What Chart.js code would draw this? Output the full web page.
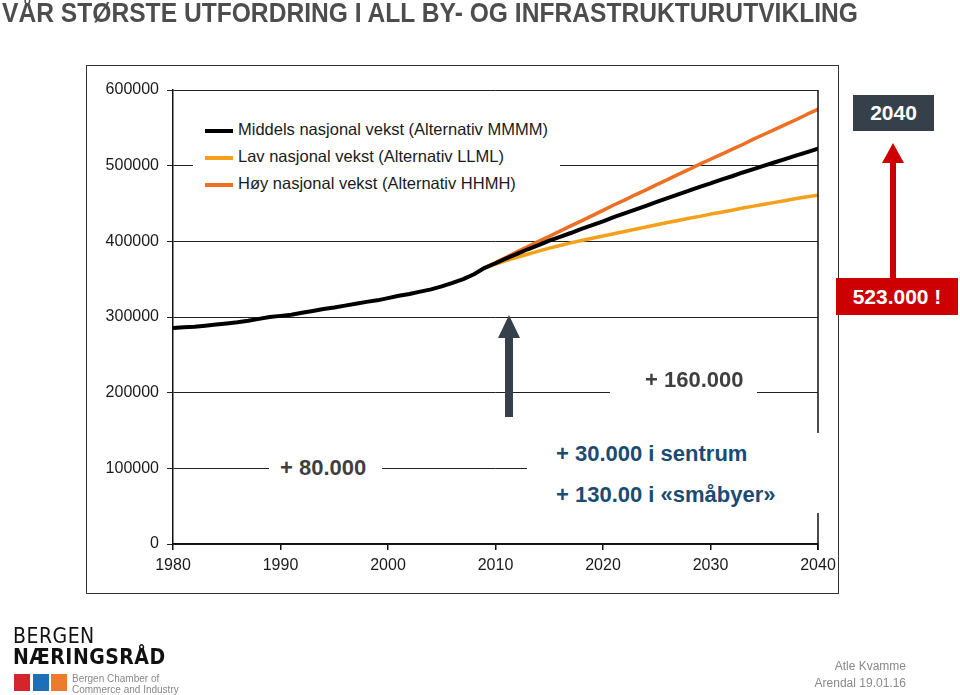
<!DOCTYPE html>
<html>
<head>
<meta charset="utf-8">
<script src="https://cdn.jsdelivr.net/npm/chart.js@4/dist/chart.umd.min.js"></script>
<style>
  html,body{margin:0;padding:0;background:#fff;}
  body{width:960px;height:695px;position:relative;overflow:hidden;font-family:"Liberation Sans",Arial,sans-serif;}
  #wrap{position:absolute;left:0;top:0;width:960px;height:695px;}
  .abs{position:absolute;}
  #title{left:2px;top:-2px;font-size:27px;font-weight:bold;color:#4d4d4d;white-space:nowrap;transform-origin:0 0;line-height:30px;}
  #frame{left:86px;top:65px;width:751px;height:527px;border:1.5px solid #333;}
  .wb{background:#fff;}
  .ann{font-weight:bold;white-space:nowrap;}
  #legend{left:193px;top:110px;width:367px;height:90px;}
  .lrow{position:absolute;left:12px;height:20px;font-size:16.5px;color:#1a1a1a;white-space:nowrap;}
  .lrow span.sw{position:absolute;left:0;top:9px;width:28px;height:4px;}
  .lrow span.tx{position:absolute;left:33px;top:0px;}
</style>
</head>
<body>
<div id="wrap">
  <div id="frame" class="abs"></div>
  <canvas id="c" width="960" height="695" class="abs" style="left:0;top:0"></canvas>
  <div id="title" class="abs">VÅR STØRSTE UTFORDRING I ALL BY- OG INFRASTRUKTURUTVIKLING</div>
  <div id="legend" class="abs wb"></div>
  <div class="abs wb" style="left:610px;top:368px;width:147px;height:28px;"></div>
  <div class="abs ann" style="left:645px;top:367px;font-size:22px;color:#3f3f3f;">+ 160.000</div>
  <div class="abs wb" style="left:269px;top:452px;width:113px;height:32px;"></div>
  <div class="abs ann" style="left:280px;top:455px;font-size:22px;color:#3f3f3f;">+ 80.000</div>
  <div class="abs wb" style="left:527px;top:433px;width:300px;height:80px;"></div>
  <div class="abs ann" style="left:556px;top:441px;font-size:22px;color:#1b4a72;">+ 30.000 i sentrum</div>
  <div class="abs ann" style="left:556px;top:482px;font-size:22px;color:#1b4a72;">+ 130.00 i «småbyer»</div>
  <!-- dark arrow -->
  <svg class="abs" style="left:495px;top:312px" width="30" height="106">
    <polygon points="14,3 25,26 18,26 18,105 10,105 10,26 3,26" fill="#36404a"/>
  </svg>
  <!-- 2040 box -->
  <div class="abs ann" style="left:853px;top:95px;width:81px;height:36px;background:#36404a;color:#fff;font-size:21px;line-height:36px;text-align:center;">2040</div>
  <!-- red arrow -->
  <svg class="abs" style="left:880px;top:140px" width="28" height="140">
    <polygon points="13,3 24,23 16,23 16,139 10,139 10,23 2,23" fill="#cc0000"/>
  </svg>
  <div class="abs ann" style="left:836px;top:278px;width:122px;height:37px;background:#cc0000;color:#fff;font-size:21px;line-height:37px;text-align:center;">523.000 !</div>
  <!-- logo -->
  <div class="abs" style="left:13px;top:626px;font-size:21px;line-height:21px;color:#111;letter-spacing:0.5px;font-family:'DejaVu Sans Condensed','Liberation Sans',sans-serif;">BERGEN</div>
  <div class="abs" style="left:13px;top:647px;font-size:21px;line-height:21px;color:#111;font-weight:bold;letter-spacing:0.5px;font-family:'DejaVu Sans Condensed','Liberation Sans',sans-serif;">NÆRINGSRÅD</div>
  <div class="abs" style="left:14px;top:674px;width:16px;height:17px;background:#d6242c;"></div>
  <div class="abs" style="left:33px;top:674px;width:16px;height:17px;background:#1f6fb7;"></div>
  <div class="abs" style="left:51px;top:674px;width:16px;height:17px;background:#ec7a2f;"></div>
  <div class="abs" style="left:72px;top:673px;font-size:10px;line-height:11px;color:#888;white-space:nowrap;">Bergen Chamber of<br>Commerce and Industry</div>
  <div class="abs" style="left:760px;top:658px;width:146px;text-align:right;font-size:12px;line-height:17px;color:#8a8a8a;">Atle Kvamme<br>Arendal 19.01.16</div>
</div>
<script>
// ---- data ----
const histYears = [1980,1981,1982,1983,1984,1985,1986,1987,1988,1989,1990,1991,1992,1993,1994,1995,1996,1997,1998,1999,2000,2001,2002,2003,2004,2005,2006,2007,2008,2009];
const histValues = [285500,286500,287000,288500,290000,291500,293000,295000,297500,300000,301500,303000,305500,308000,310500,312500,315000,317500,320000,322000,325000,328000,330500,333500,336500,340500,345000,350000,356500,365000];
const projYears = [2009,2010,2011,2012,2013,2014,2015,2016,2017,2018,2019,2020,2021,2022,2023,2024,2025,2026,2027,2028,2029,2030,2031,2032,2033,2034,2035,2036,2037,2038,2039,2040];
const middelsValues = [365000,371000,377500,383500,389500,395000,401000,406000,411000,416500,421500,426500,432000,437000,442000,447000,452000,457000,462000,467000,472000,476500,481500,486000,491000,495500,500000,504500,509000,513500,518000,522500];
const lavValues = [365000,370000,374500,379000,383000,387000,391000,394500,398000,401000,404000,407000,410000,413000,416000,419000,422000,425000,427500,430500,433000,436000,438500,441000,444000,446500,449000,451500,454000,456500,459000,461000];
const hoyValues = [365000,372000,379000,386000,393000,400000,406500,413500,420500,427000,434000,441000,448000,454500,461500,468000,475000,481500,488500,495000,502000,508500,515000,521500,528000,535000,541500,548000,554500,561000,568000,574500];
const seriesLabels = ["Middels nasjonal vekst (Alternativ MMMM)","Lav nasjonal vekst (Alternativ LLML)","Høy nasjonal vekst (Alternativ HHMH)"];
const seriesColors = ["#000000","#f5a01a","#ee6f21"];
const xTicks = [1980,1990,2000,2010,2020,2030,2040];
const yTicks = [0,100000,200000,300000,400000,500000,600000];

const pts = (xs, ys) => xs.map((x,i)=>({x:x,y:ys[i]}));
const middelsPts = pts(histYears, histValues).concat(pts(projYears.slice(1), middelsValues.slice(1)));

// legend (HTML, from series arrays)
const leg = document.getElementById('legend');
seriesLabels.forEach((lab,i)=>{
  const r = document.createElement('div');
  r.className='lrow'; r.style.top=(10+i*27)+'px';
  r.innerHTML='<span class="sw" style="background:'+seriesColors[i]+'"></span><span class="tx"></span>';
  r.querySelector('.tx').textContent=lab;
  leg.appendChild(r);
});

// fit title width
const t = document.getElementById('title');
t.style.transform = 'scaleX(' + (856 / t.offsetWidth) + ')';

const rightBorder = {
  id:'rightBorder',
  afterDatasetsDraw(chart){
    const a = chart.chartArea, ctx = chart.ctx;
    ctx.save(); ctx.strokeStyle='#111'; ctx.lineWidth=1.5;
    ctx.beginPath(); ctx.moveTo(a.right, a.top); ctx.lineTo(a.right, a.bottom+6); ctx.stroke();
    ctx.restore();
  }
};

new Chart(document.getElementById('c'), {
  type:'line',
  data:{datasets:[
    {label:seriesLabels[0], data:middelsPts, borderColor:seriesColors[0], borderWidth:4, order:1},
    {label:seriesLabels[1], data:pts(projYears, lavValues), borderColor:seriesColors[1], borderWidth:3.5, order:3},
    {label:seriesLabels[2], data:pts(projYears, hoyValues), borderColor:seriesColors[2], borderWidth:3.5, order:2}
  ]},
  options:{
    responsive:false, animation:false, devicePixelRatio:1,
    elements:{point:{radius:0}, line:{tension:0, borderCapStyle:'round', borderJoinStyle:'round'}},
    layout:{padding:{top:90,left:0,right:142,bottom:111}},
    plugins:{legend:{display:false}, tooltip:{enabled:false}},
    scales:{
      x:{type:'linear', min:1980, max:2040,
        afterBuildTicks(s){ s.ticks = xTicks.map(v=>({value:v})); },
        afterFit(s){ s.height = 40; },
        grid:{drawOnChartArea:false, drawTicks:true, tickLength:6, color:'#111', lineWidth:1.5},
        border:{display:true, color:'#111', width:1.5},
        ticks:{color:'#1a1a1a', font:{family:'"Liberation Sans", Arial', size:16}, padding:6, maxRotation:0, callback:v=>String(v)}
      },
      y:{min:0, max:600000,
        afterBuildTicks(s){ s.ticks = yTicks.map(v=>({value:v})); },
        afterFit(s){ s.width = 173; },
        grid:{color:'#222', lineWidth:1, tickLength:6, drawTicks:true},
        border:{display:true, color:'#111', width:1.5},
        ticks:{color:'#1a1a1a', font:{family:'"Liberation Sans", Arial', size:16}, padding:8, callback:v=>String(v)}
      }
    }
  },
  plugins:[rightBorder]
});
</script>
</body>
</html>
